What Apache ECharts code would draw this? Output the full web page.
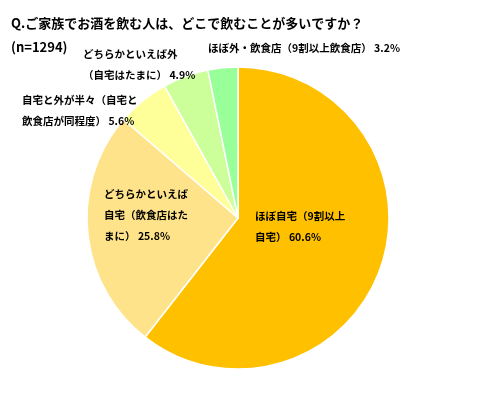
<!DOCTYPE html>
<html><head><meta charset="utf-8">
<script src="https://cdn.jsdelivr.net/npm/echarts@6/dist/echarts.min.js"></script>
<style>html,body{margin:0;padding:0;background:#fff}#c{width:489px;height:400px}</style>
</head><body><div id="c"></div>
<script>
const labels = ['ほぼ自宅（9割以上\n自宅） 60.6%', 'どちらかといえば\n自宅（飲食店はた\nまに） 25.8%', '自宅と外が半々（自宅と\n飲食店が同程度） 5.6%', 'どちらかといえば外\n（自宅はたまに） 4.9%', 'ほぼ外・飲食店（9割以上飲食店） 3.2%'];
const values = [60.6, 25.8, 5.6, 4.9, 3.2];
const colors = ['#FFC000', '#FFE38A', '#FFFF99', '#CCFF99', '#99FF99'];
const labelPos = [[255, 206, 'left'], [104, 184, 'left'], [22, 90, 'left'], [83, 44, 'left'], [208, 38, 'left']];
const chart = echarts.init(document.getElementById('c'));
chart.setOption({
  animation: false,
  title: { text: 'Q.ご家族でお酒を飲む人は、どこで飲むことが多いですか？\n(n=1294)', left: 6, top: 6,
    textStyle: { fontFamily: 'Noto Sans CJK JP', fontSize: 13, fontWeight: 'bold', color: '#000', lineHeight: 24 } },
  series: [{
    type: 'pie', center: [238, 218], radius: [0, 151], startAngle: 90, clockwise: true,
    itemStyle: { borderColor: '#fff', borderWidth: 1.5 },
    label: { show: true, position: 'inside', formatter: p => labels[p.dataIndex], color: '#000',
      fontFamily: 'Noto Sans CJK JP', fontSize: 10.5, fontWeight: 'bold', lineHeight: 21, align: 'left' },
    labelLine: { show: false },
    labelLayout: p => ({ x: labelPos[p.dataIndex][0], y: labelPos[p.dataIndex][1], align: 'left', verticalAlign: 'top' }),
    data: values.map((v, i) => ({ value: v, name: labels[i], itemStyle: { color: colors[i] } }))
  }]
});
</script></body></html>
